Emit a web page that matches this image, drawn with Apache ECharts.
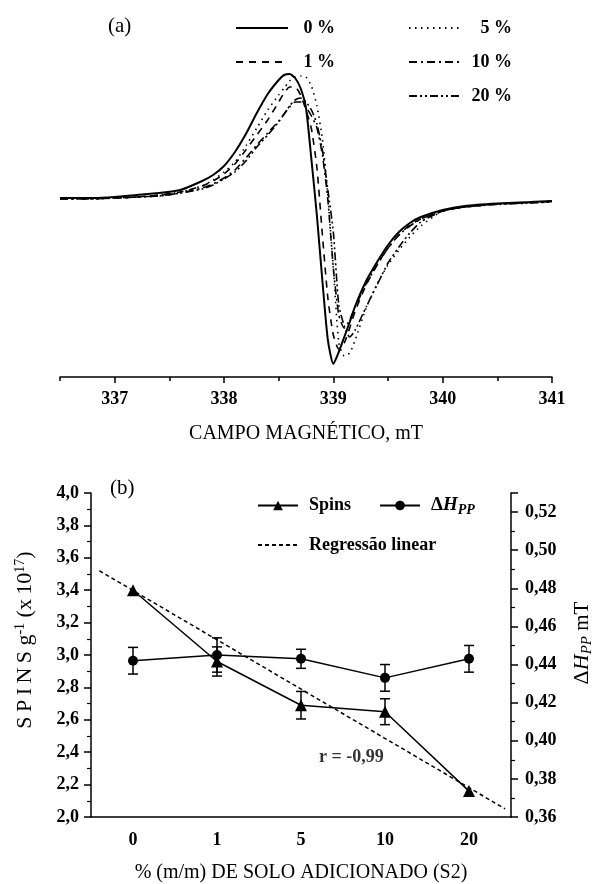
<!DOCTYPE html>
<html>
<head>
<meta charset="utf-8">
<script src="https://cdn.jsdelivr.net/npm/echarts@6/dist/echarts.min.js"></script>
<style>
html, body { margin: 0; padding: 0; background: #fff; }
#chart { width: 597px; height: 884px; }
</style>
</head>
<body>
<div id="chart"></div>
<script>
// (a) EPR first-derivative spectra, field in mT, intensity in arbitrary units
var field = [336.5, 336.8, 337.0, 337.2, 337.4, 337.6, 337.8, 337.9, 338.0, 338.1,
  338.2, 338.3, 338.4, 338.5, 338.55, 338.6, 338.65, 338.7, 338.75, 338.8,
  338.85, 338.9, 338.95, 339.0, 339.05, 339.1, 339.15, 339.2, 339.3, 339.4,
  339.5, 339.6, 339.7, 339.8, 340.0, 340.2, 340.5, 340.8, 341.0];
var spec0 = [-1, -1, 0, 2, 4, 7, 16, 22, 31, 45, 63, 84, 103, 117, 122, 123, 119, 109, 89, 37,
  -19, -84, -143, -167, -155, -140, -125, -109, -84, -65, -48, -35, -26, -20, -13, -9, -6.5, -5, -4];
var spec1 = [-1, -1, -1, 0, 2, 5, 11, 16, 23, 33, 47, 62, 77, 95, 104, 110, 110, 102, 87, 68,
  29, -38, -101, -138, -152, -146, -131, -114, -88, -68, -51, -38, -28, -22, -14, -10, -7, -5.5, -4.5];
var spec5 = [-1, -1, -1, 0, 2, 5, 11, 17, 25, 35, 51, 69, 87, 102, 109, 116, 120, 121, 120, 111,
  91, 58, 1, -71, -146, -159, -156, -143, -111, -87, -68, -53, -40, -29, -14, -10, -7, -5.5, -4.5];
var spec10 = [-2, -2, -1, 0, 1, 4, 9, 13, 19, 27, 39, 52, 64, 76, 83, 90, 95, 95, 90, 81,
  69, 42, -3, -71, -118, -131, -123, -110, -87, -68, -51, -38, -29, -22, -14, -10, -7, -5.5, -4.5];
var spec20 = [-2, -2, -1, 0, 1, 4, 8, 12, 18, 25, 36, 50, 62, 75, 83, 91, 97, 99, 95, 87,
  73, 47, 7, -35, -108, -129, -140, -133, -110, -88, -66, -50, -36, -25, -14, -10, -7.5, -6, -5];
var fieldTicks = [337, 338, 339, 340, 341];
var fieldHalfTicks = [336.5, 337.5, 338.5, 339.5, 340.5];

// (b) spins and line width vs added soil
var soil = ['0', '1', '5', '10', '20'];
var spins = [3.40, 2.96, 2.69, 2.65, 2.16];
var spinsErr = [0, 0.09, 0.085, 0.08, 0];
var dHpp = [0.442, 0.445, 0.443, 0.433, 0.443];
var dHppErr = [0.007, 0.009, 0.005, 0.007, 0.007];
var regrX = [-0.4, 4.43];
var regrY = [3.52, 2.05];
var rText = 'r = -0,99';
var rAt = [2.6, 2.37];

var serif = '"Liberation Serif", "Times New Roman", serif';
var black = '#000';
var thin = '\u2009';
var chart = echarts.init(document.getElementById('chart'));

function pairs(xs, ys) {
  return xs.map(function (x, i) { return [x, ys[i]]; });
}
function comma(d) {
  return function (v) { return v.toFixed(d).replace('.', ','); };
}
function spectrum(name, ys, type, width) {
  return {
    name: name, type: 'line', xAxisIndex: 0, yAxisIndex: 0,
    data: pairs(field, ys), showSymbol: false, symbol: 'none', smooth: 0.2,
    lineStyle: { color: black, width: width, type: type },
    itemStyle: { color: black }, silent: true
  };
}
function errorBars(vals, errs, yIdx) {
  var rows = [];
  vals.forEach(function (v, i) {
    if (errs[i] > 0) rows.push([i, v - errs[i], v + errs[i]]);
  });
  return {
    type: 'custom', xAxisIndex: 2, yAxisIndex: yIdx, data: rows, z: 3, silent: true,
    renderItem: function (params, api) {
      var lo = api.coord([api.value(0), api.value(1)]);
      var hi = api.coord([api.value(0), api.value(2)]);
      var w = 5, st = { stroke: black, lineWidth: 1.5 };
      return { type: 'group', children: [
        { type: 'line', shape: { x1: hi[0], y1: hi[1], x2: lo[0], y2: lo[1] }, style: st },
        { type: 'line', shape: { x1: hi[0] - w, y1: hi[1], x2: hi[0] + w, y2: hi[1] }, style: st },
        { type: 'line', shape: { x1: lo[0] - w, y1: lo[1], x2: lo[0] + w, y2: lo[1] }, style: st }
      ] };
    }
  };
}

var boldText = { fontFamily: serif, fontSize: 18, fontWeight: 'bold', color: black };
var rich = {
  d: { fontFamily: serif, fontSize: 19, color: black },
  h: { fontFamily: serif, fontSize: 19, fontStyle: 'italic', fontWeight: 'bold', color: black },
  p: { fontFamily: serif, fontSize: 14, fontStyle: 'italic', fontWeight: 'bold', color: black,
       verticalAlign: 'bottom', padding: [9, 0, 0, 0] },
  D: { fontFamily: serif, fontSize: 22, color: black },
  H: { fontFamily: serif, fontSize: 22, fontStyle: 'italic', color: black },
  P: { fontFamily: serif, fontSize: 15, fontStyle: 'italic', color: black,
       verticalAlign: 'bottom', padding: [10, 0, 0, 0] },
  m: { fontFamily: serif, fontSize: 21, color: black },
  gapR: { width: 24 },
  gapL: { width: 30 },
  n: { fontFamily: serif, fontSize: 22, color: black },
  s: { fontFamily: serif, fontSize: 14, color: black, verticalAlign: 'top', padding: [0, 0, 10, 0] }
};
function legendBox(w) {
  return { t: { fontFamily: serif, fontSize: 18, fontWeight: 'bold', color: black, width: w, align: 'right' } };
}

chart.setOption({
  animation: false,
  grid: [
    { left: 60, right: 45, top: 17, bottom: 507, outerBoundsMode: 'none', containLabel: false },
    { left: 91, right: 86, top: 493, bottom: 67, outerBoundsMode: 'none', containLabel: false }
  ],
  legend: [
    { data: ['0 %', '1 %'], orient: 'vertical', left: 230, top: 14, itemWidth: 52, itemHeight: 12,
      itemGap: 16, formatter: '{t|{name}}', textStyle: { rich: legendBox(42) },
      itemStyle: { opacity: 0 } },
    { data: ['5 %', '10 %', '20 %'], orient: 'vertical', left: 403, top: 14, itemWidth: 52, itemHeight: 12,
      itemGap: 16, formatter: '{t|{name}}', textStyle: { rich: legendBox(46) },
      itemStyle: { opacity: 0 } },
    { data: ['Spins', 'ΔHpp'], left: 252, top: 491, itemWidth: 40, itemHeight: 12, itemGap: 28,
      formatter: function (n) { return n === 'ΔHpp' ? '{d|Δ}{h|H}{p|PP}' : n; },
      textStyle: Object.assign({ rich: rich, padding: [0, 0, 0, 6] }, boldText) },
    { data: ['Regressão linear'], left: 252, top: 531, itemWidth: 40, itemHeight: 12,
      textStyle: Object.assign({ padding: [0, 0, 0, 6] }, boldText),
      itemStyle: { opacity: 0 } }
  ],
  xAxis: [
    { gridIndex: 0, type: 'value', min: 336.5, max: 341, position: 'bottom',
      axisLine: { onZero: false, lineStyle: { color: black, width: 1.5 } },
      axisTick: { customValues: fieldTicks, length: 6, lineStyle: { color: black, width: 1.5 } },
      axisLabel: Object.assign({ customValues: fieldTicks, margin: 13 }, boldText),
      splitLine: { show: false },
      name: 'CAMPO MAGNÉTICO, mT', nameLocation: 'middle', nameGap: 47,
      nameTextStyle: { fontFamily: serif, fontSize: 20, color: black } },
    { gridIndex: 0, type: 'value', min: 336.5, max: 341, position: 'bottom',
      axisLine: { show: false, onZero: false },
      axisTick: { customValues: fieldHalfTicks, length: 4, lineStyle: { color: black, width: 1.5 } },
      axisLabel: { show: false }, splitLine: { show: false } },
    { gridIndex: 1, type: 'category', data: soil, boundaryGap: true, position: 'bottom',
      axisLine: { onZero: false, lineStyle: { color: black, width: 1.5 } },
      axisTick: { alignWithLabel: true, length: 5, lineStyle: { color: black, width: 1.5 } },
      axisLabel: Object.assign({ margin: 14 }, boldText),
      name: '% (m/m) DE SOLO ADICIONADO (S2)', nameLocation: 'middle', nameGap: 46,
      nameTextStyle: { fontFamily: serif, fontSize: 20, color: black } },
    { gridIndex: 1, type: 'value', min: -0.5, max: 4.5, show: false }
  ],
  yAxis: [
    { gridIndex: 0, type: 'value', min: -180, max: 180, show: false },
    { gridIndex: 1, type: 'value', min: 2, max: 4, interval: 0.2, position: 'left',
      axisLine: { show: true, onZero: false, lineStyle: { color: black, width: 1.5 } },
      axisTick: { show: true, length: 7, lineStyle: { color: black, width: 1.5 } },
      minorTick: { show: true, splitNumber: 2, length: 4, lineStyle: { color: black, width: 1.2 } },
      axisLabel: Object.assign({ formatter: comma(1), margin: 12 }, boldText),
      splitLine: { show: false },
      name: '{gapL|}{n|S' + thin + 'P' + thin + 'I' + thin + 'N' + thin + 'S g}{s|-1}{n| (x' + thin + '10}{s|17}{n|)}',
      nameLocation: 'middle', nameRotate: 90, nameGap: 54,
      nameTextStyle: { rich: rich } },
    { gridIndex: 1, type: 'value', min: 0.36, max: 0.53, interval: 0.02, position: 'right',
      axisLine: { show: true, onZero: false, lineStyle: { color: black, width: 1.5 } },
      axisTick: { show: true, length: 7, lineStyle: { color: black, width: 1.5 } },
      minorTick: { show: true, splitNumber: 2, length: 4, lineStyle: { color: black, width: 1.2 } },
      axisLabel: Object.assign({ formatter: comma(2), margin: 14, showMaxLabel: false }, boldText),
      splitLine: { show: false },
      name: '{gapR|}{D|Δ}{H|H}{P|PP}{m| mT}', nameLocation: 'middle', nameRotate: 90, nameGap: 59,
      nameTextStyle: { rich: rich } }
  ],
  series: [
    spectrum('0 %', spec0, 'solid', 2),
    spectrum('1 %', spec1, [7, 6], 1.6),
    spectrum('5 %', spec5, [1.5, 4.5], 1.6),
    spectrum('10 %', spec10, [8, 4, 2, 4], 1.6),
    spectrum('20 %', spec20, [8, 3, 2, 3, 2, 3], 1.6),
    { name: 'Spins', type: 'line', xAxisIndex: 2, yAxisIndex: 1, data: spins,
      symbol: 'triangle', symbolSize: 12, lineStyle: { color: black, width: 1.5 },
      itemStyle: { color: black }, z: 4 },
    { name: 'ΔHpp', type: 'line', xAxisIndex: 2, yAxisIndex: 2, data: dHpp,
      symbol: 'circle', symbolSize: 10, lineStyle: { color: black, width: 1.5 },
      itemStyle: { color: black }, z: 4 },
    { name: 'Regressão linear', type: 'line', xAxisIndex: 3, yAxisIndex: 1,
      data: pairs(regrX, regrY), symbol: 'none',
      lineStyle: { color: black, width: 1.5, type: [4, 3] }, itemStyle: { color: black }, z: 2 },
    errorBars(spins, spinsErr, 1),
    errorBars(dHpp, dHppErr, 2),
    { type: 'scatter', xAxisIndex: 3, yAxisIndex: 1, data: [rAt], symbolSize: 0, silent: true,
      label: Object.assign({ show: true, formatter: rText, position: 'inside' }, boldText) }
  ],
  graphic: [
    { type: 'text', left: 108, top: 16, style: { text: '(a)', font: '21px ' + serif, fill: black } },
    { type: 'text', left: 110, top: 478, style: { text: '(b)', font: '21px ' + serif, fill: black } }
  ]
});
</script>
</body>
</html>
